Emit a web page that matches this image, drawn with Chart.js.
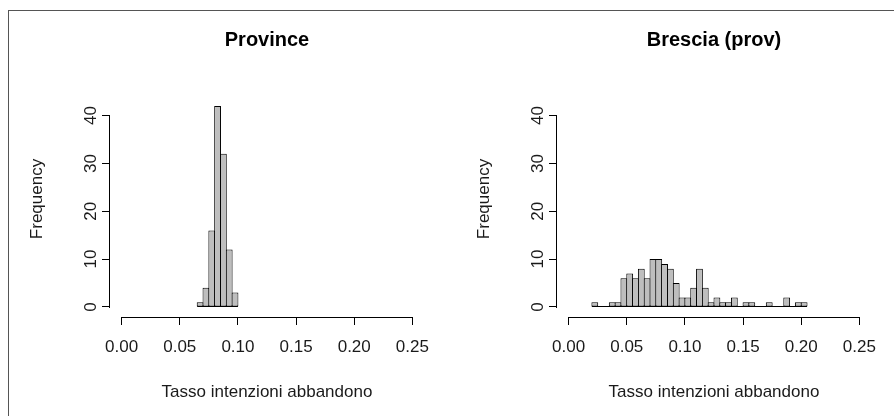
<!DOCTYPE html>
<html>
<head>
<meta charset="utf-8">
<script src="https://cdn.jsdelivr.net/npm/chart.js@4"></script>
<style>
  html, body { margin: 0; padding: 0; background: #fff; }
  #wrap { position: relative; width: 894px; height: 416px; overflow: hidden; background: #fff; }
  #frame { position: absolute; left: 8px; top: 10px; width: 1000px; height: 1000px; border: 1px solid #555; box-sizing: border-box; }
  canvas { position: absolute; top: 0; }
  #c1 { left: 0; }
  #c2 { left: 447px; }
</style>
</head>
<body>
<div id="wrap">
  <div id="frame"></div>
  <canvas id="c1" width="447" height="416"></canvas>
  <canvas id="c2" width="447" height="416"></canvas>
</div>
<script>
// ---- data ----
const binWidth = 0.005;
const provinceBins   = [0.065, 0.070, 0.075, 0.080, 0.085, 0.090, 0.095];
const provinceCounts = [1, 4, 16, 42, 32, 12, 3];

const bresciaBins = [0.020, 0.025, 0.030, 0.035, 0.040, 0.045, 0.050, 0.055, 0.060, 0.065,
                     0.070, 0.075, 0.080, 0.085, 0.090, 0.095, 0.100, 0.105, 0.110, 0.115,
                     0.120, 0.125, 0.130, 0.135, 0.140, 0.145, 0.150, 0.155, 0.160, 0.165,
                     0.170, 0.175, 0.180, 0.185, 0.190, 0.195, 0.200];
const bresciaCounts = [1, 0, 0, 1, 1, 6, 7, 6, 8, 6,
                       10, 10, 9, 8, 5, 2, 2, 4, 8, 4,
                       1, 2, 1, 1, 2, 0, 1, 1, 0, 0,
                       1, 0, 0, 2, 0, 1, 1];

const xTickValues = [0, 0.05, 0.10, 0.15, 0.20, 0.25];
const xTickLabels = ['0.00', '0.05', '0.10', '0.15', '0.20', '0.25'];
const yTickValues = [0, 10, 20, 30, 40];
const yTickLabels = ['0', '10', '20', '30', '40'];

const titles = ['Province', 'Brescia (prov)'];
const xTitle = 'Tasso intenzioni abbandono';
const yTitle = 'Frequency';

// ---- styling ----
const FONT = '"Liberation Sans", Arial, Helvetica, sans-serif';
Chart.defaults.font.family = FONT;
Chart.defaults.color = '#1a1a1a';

const rStyle = {
  id: 'rStyle',
  beforeDatasetsDraw(chart, args, opts) {
    const { ctx, scales: { x, y } } = chart;
    const bins = opts.bins;
    ctx.save();
    ctx.strokeStyle = '#000';
    ctx.lineWidth = 1;
    const y0 = Math.round(y.getPixelForValue(0)) - 0.5;
    ctx.beginPath();
    ctx.moveTo(x.getPixelForValue(bins[0]), y0);
    ctx.lineTo(x.getPixelForValue(bins[bins.length - 1] + binWidth), y0);
    ctx.stroke();
    ctx.restore();
  },
  afterDraw(chart, args, opts) {
    const { ctx, chartArea: a, scales: { x, y } } = chart;
    ctx.save();
    ctx.strokeStyle = '#000';
    ctx.lineWidth = 1;
    // axis lines (R style, only over tick range)
    const xa = Math.round(a.bottom) + 0.5;
    ctx.beginPath();
    ctx.moveTo(Math.round(x.getPixelForValue(xTickValues[0])), xa);
    ctx.lineTo(Math.round(x.getPixelForValue(xTickValues[xTickValues.length - 1])) + 1, xa);
    ctx.stroke();
    const ya = Math.round(a.left) - 0.5;
    ctx.beginPath();
    ctx.moveTo(ya, Math.round(y.getPixelForValue(yTickValues[0])) + 1);
    ctx.lineTo(ya, Math.round(y.getPixelForValue(yTickValues[yTickValues.length - 1])));
    ctx.stroke();
    // titles
    const cx = (a.left + a.right) / 2;
    ctx.fillStyle = '#000';
    ctx.textAlign = 'center';
    ctx.textBaseline = 'middle';
    ctx.font = 'bold 20px ' + FONT;
    ctx.fillText(opts.title, cx, 40);
    ctx.fillStyle = '#1a1a1a';
    ctx.font = '17px ' + FONT;
    ctx.fillText(xTitle, cx, 392);
    ctx.save();
    ctx.translate(37, 199);
    ctx.rotate(-Math.PI / 2);
    ctx.fillText(yTitle, 0, 0);
    ctx.restore();
    ctx.restore();
  }
};

function makeChart(id, title, bins, counts) {
  const data = bins.map((b, i) => ({ x: b + binWidth / 2, y: counts[i] }));
  return new Chart(document.getElementById(id), {
    type: 'bar',
    data: {
      datasets: [{
        data: data,
        backgroundColor: '#bebebe',
        borderColor: '#000',
        borderWidth: 1,
        borderSkipped: false,
        inflateAmount: 0,
        barPercentage: 1,
        categoryPercentage: 1.17,
        grouped: false
      }]
    },
    options: {
      responsive: false,
      animation: false,
      events: [],
      layout: { padding: { top: 98, right: 23, left: 0, bottom: 0 } },
      plugins: {
        legend: { display: false },
        title: { display: false },
        tooltip: { enabled: false },
        rStyle: { title: title, bins: bins }
      },
      scales: {
        x: {
          type: 'linear',
          offset: false,
          min: -0.01,
          max: 0.26,
          afterBuildTicks: (s) => { s.ticks = xTickValues.map(v => ({ value: v })); },
          afterFit: (s) => { s.height = 99; },
          border: { display: false },
          grid: { offset: false, drawOnChartArea: false, drawTicks: true, tickLength: 8, color: '#000', lineWidth: 1 },
          ticks: {
            autoSkip: false,
            maxRotation: 0,
            padding: 12,
            font: { size: 17 },
            color: '#1a1a1a',
            callback: (v, i) => xTickLabels[i]
          }
        },
        y: {
          type: 'linear',
          min: -2.1,
          max: 43.68,
          afterBuildTicks: (s) => { s.ticks = yTickValues.map(v => ({ value: v })); },
          afterFit: (s) => { s.width = 110; },
          border: { display: false },
          grid: { offset: false, drawOnChartArea: false, drawTicks: true, tickLength: 8, color: '#000', lineWidth: 1 },
          ticks: {
            autoSkip: false,
            minRotation: 90,
            maxRotation: 90,
            crossAlign: 'center',
            padding: 1,
            font: { size: 17 },
            color: '#1a1a1a',
            callback: (v, i) => yTickLabels[i]
          }
        }
      }
    },
    plugins: [rStyle]
  });
}

makeChart('c1', titles[0], provinceBins, provinceCounts);
makeChart('c2', titles[1], bresciaBins, bresciaCounts);
</script>
</body>
</html>
